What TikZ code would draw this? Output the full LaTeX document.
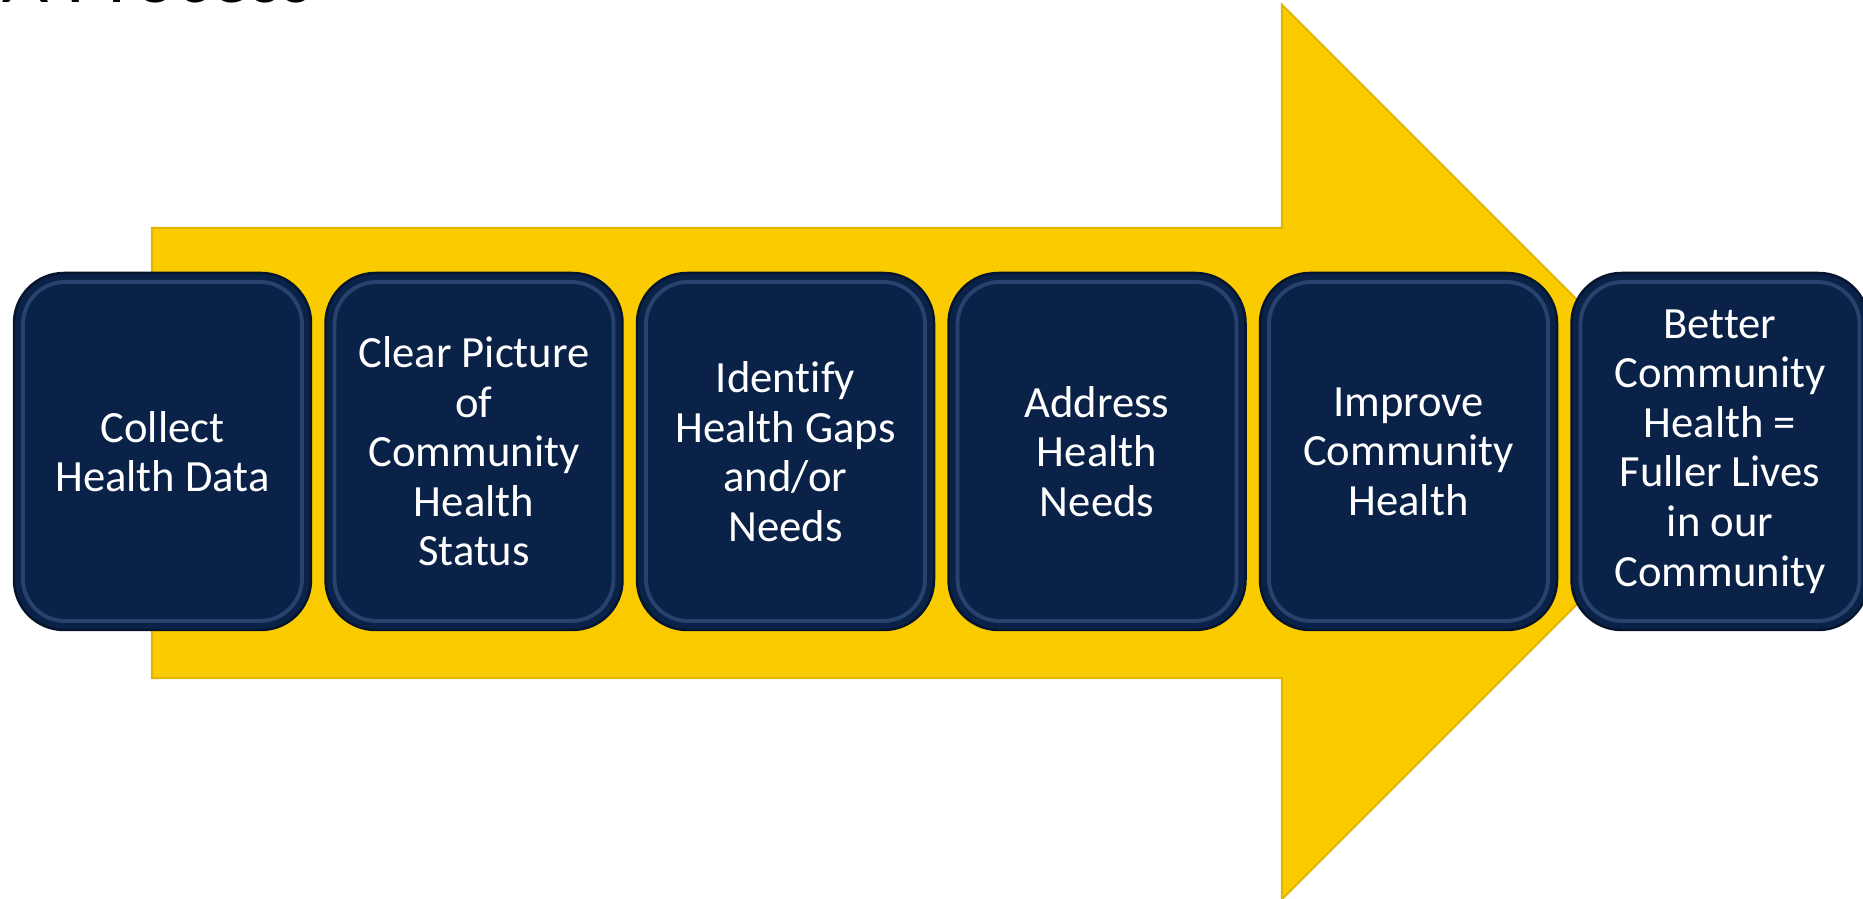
\documentclass[tikz,border=0pt]{standalone}
\usepackage{fontspec}
\setmainfont{Carlito}[Ligatures=NoCommon]
\usepackage{xcolor}
\usepackage{tikz}
\usetikzlibrary{positioning, calc}
\definecolor{navy}{HTML}{0A2248}
\definecolor{navyrim}{HTML}{06142C}
\definecolor{navylight}{HTML}{4A6A9C}
\definecolor{gold}{HTML}{FACC00}
\definecolor{goldedge}{HTML}{E2B600}

\begin{document}
\begin{tikzpicture}[
  stage/.style={draw=navyrim, line width=0.7pt, fill=navy, rounded corners=0.5cm,
    minimum width=2.97cm, minimum height=3.57cm, inner sep=0pt, outer sep=0pt,
    align=center, text=white, font=\fontsize{12.7pt}{14.1pt}\selectfont},
  bevel/.style={draw=navylight, line width=1.1pt, rounded corners=0.42cm, opacity=0.45},
]
\useasboundingbox (0,0) rectangle (18.63,8.99);
\clip (0,0) rectangle (18.63,8.99);
% title, cut off at the top edge
\node[anchor=base west, inner sep=0pt, font=\fontsize{22.7pt}{26pt}\selectfont] (title) at (0.02,8.96) {A Process};
% yellow arrow
\draw[fill=gold, draw=goldedge, line width=0.6pt]
  (1.52,6.71) -- (12.82,6.71) -- (12.82,8.94) -- (17.29,4.47) -- (12.82,0)
  -- (12.82,2.21) -- (1.52,2.21) -- cycle;
% stages
\node[stage] (collect) at (1.625,4.475) {Collect\\Health Data};
\node[stage, right=0.145cm of collect] (picture) {Clear Picture\\of\\Community\\Health\\Status};
\node[stage, right=0.145cm of picture] (gaps) {Identify\\Health Gaps\\and/or\\Needs};
\node[stage, right=0.145cm of gaps] (address) {Address\\Health\\Needs};
\node[stage, right=0.145cm of address] (improve) {Improve\\Community\\Health};
\node[stage, right=0.145cm of improve] (better) {Better\\Community\\Health =\\Fuller Lives\\in our\\Community};
\foreach \s in {collect, picture, gaps, address, improve, better}
  \draw[bevel] ($(\s.south west)+(0.09,0.09)$) rectangle ($(\s.north east)-(0.09,0.09)$);
\end{tikzpicture}
\end{document}
